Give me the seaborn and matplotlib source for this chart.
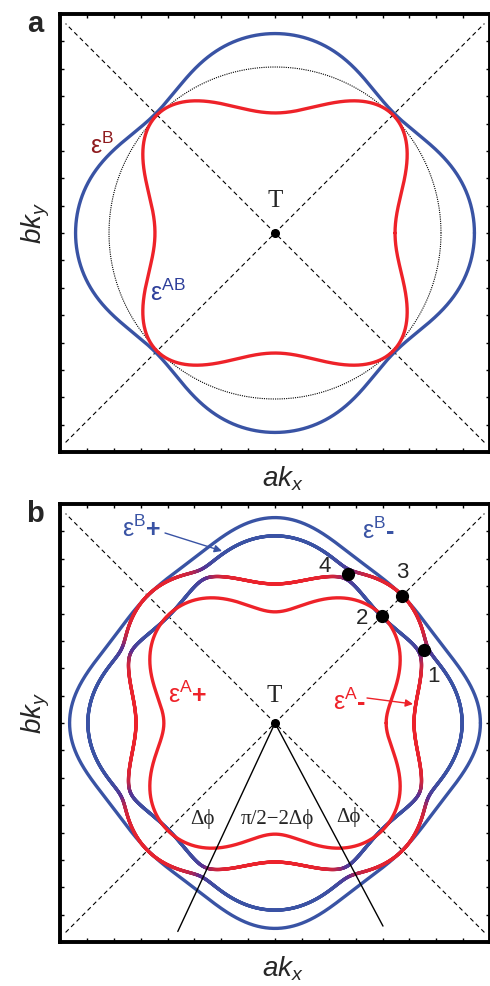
import numpy as np
import matplotlib
matplotlib.use("Agg")
import matplotlib.pyplot as plt
import seaborn as sns
from matplotlib.collections import LineCollection
from matplotlib.colors import LinearSegmentedColormap

# Radii (pixels of the original figure) read along one octant;
# angle in degrees measured from the k_x axis, 8-fold symmetric.
# Panel a
A_ANG_AB = [0, 11, 21, 32, 45]
A_R_AB = [199, 197, 188, 176, 169]
A_ANG_B = [0, 16, 27, 37.6, 45]
A_R_B = [121, 128, 150, 162, 167]
A_R_CIRCLE = 166

# Panel b, bare (unhybridised) bands
B_ANG_AP = [0, 9, 17, 27, 36, 45]
B_R_AP = [111, 116, 127, 140, 149, 152]
B_ANG_BP = [0, 12, 19, 25, 32, 39, 45]
B_R_BP = [187, 180, 175, 166, 159, 153, 152]
B_ANG_AM = [0, 12, 20, 25, 32, 38, 45]
B_R_AM = [140, 147, 155, 165, 175, 176, 179]
B_ANG_BM = [0, 10, 20, 30, 38, 45]
B_R_BM = [206, 199, 189, 182, 180, 180]
HYB_GAP = 5

DIAG_ANG = [45, 135]
WEDGE_ANG = [-115, -62]
WEDGE_LEN = 230

RED = "#ee2229"
BLUE = "#3953a4"
PURPLE = "#5f2d8f"
DARK_RED = "#8e1b1e"
LABEL_BLUE = "#2e3f9a"
XLIM = 215
YLIM = 219

sns.set_theme(style="white")
plt.rcParams["font.family"] = ["Liberation Sans", "DejaVu Sans"]
plt.rcParams["mathtext.fontset"] = "custom"
plt.rcParams["mathtext.rm"] = "Liberation Sans"
plt.rcParams["mathtext.it"] = "Liberation Sans:italic"
plt.rcParams["mathtext.bf"] = "Liberation Sans:bold"

SERIF = ["Liberation Serif", "DejaVu Serif"]
band_cmap = LinearSegmentedColormap.from_list("rb", [RED, PURPLE, BLUE])


def octant_curve(ang, rad, n_harm=3, n=2881):
    # low-order cos(4k t) least-squares fit through the read points
    u = 4 * np.radians(ang)
    k = np.arange(n_harm)
    coef = np.linalg.lstsq(np.cos(np.outer(u, k)), np.asarray(rad, float),
                           rcond=None)[0]
    t = np.linspace(0, 2 * np.pi, n)
    r = np.cos(4 * np.outer(t, k)) @ coef
    return t, r


def draw_curve(ax, t, r, color, lw=2.4, z=3):
    sns.lineplot(x=r * np.cos(t), y=r * np.sin(t), sort=False, ax=ax,
                 color=color, lw=lw, zorder=z, estimator=None)


def draw_gradient(ax, t, r, w_blue, lw=2.4, z=3):
    pts = np.column_stack([r * np.cos(t), r * np.sin(t)]).reshape(-1, 1, 2)
    segs = np.concatenate([pts[:-1], pts[1:]], axis=1)
    w = 0.5 * (w_blue[:-1] + w_blue[1:])
    lc = LineCollection(segs, colors=band_cmap(w), linewidths=lw,
                        capstyle="round", joinstyle="round", zorder=z)
    ax.add_collection(lc)


def setup_axes(ax):
    ax.set_xlim(-XLIM, XLIM)
    ax.set_ylim(-YLIM, YLIM)
    ax.set_xticks(np.linspace(-XLIM, XLIM, 17))
    ax.set_yticks(np.linspace(-YLIM, YLIM, 17))
    ax.tick_params(direction="in", length=3, width=1, color="black",
                   top=True, right=True, bottom=True, left=True,
                   labelleft=False, labelbottom=False)
    for s in ax.spines.values():
        s.set_linewidth(2.8)
        s.set_color("black")
    ax.grid(False)
    ax.set_xlabel(r"$ak_x$", fontsize=20)
    ax.set_ylabel(r"$bk_y$", fontsize=20)
    ax.xaxis.set_label_coords(0.519, -0.028)
    ax.yaxis.set_label_coords(-0.019, 0.522)
    # dashed diagonals through T
    for a in DIAG_ANG:
        d = np.radians(a)
        L = 0.965 * np.hypot(XLIM, YLIM)
        ax.plot([-L * np.cos(d), L * np.cos(d)], [-L * np.sin(d), L * np.sin(d)],
                ls=(0, (4, 3)), color="black", lw=0.8, zorder=2)
    ax.plot([0], [0], "o", color="black", ms=5.5, zorder=6)


def eps_label(ax, x, y, sup, sign, color, fs=18):
    ax.text(x, y, "ε$^{\\mathrm{" + sup + "}}$", color=color, fontsize=fs,
            ha="left", va="center", zorder=7)
    if sign:
        off = 0.5 * fs + 0.47 * fs * len(sup)
        ax.annotate(sign, xy=(x, y), xytext=(off, -1), textcoords="offset points",
                    color=color, fontsize=fs, fontweight="bold",
                    ha="left", va="center", zorder=7)


fig = plt.figure(figsize=(4.9, 9.86), dpi=100)
ax_a = fig.add_axes([60 / 490, 1 - 452 / 986, 430 / 490, 438 / 986])
ax_b = fig.add_axes([60 / 490, 1 - 942 / 986, 430 / 490, 438 / 986])

# ---------------- panel a ----------------
setup_axes(ax_a)
t, r_ab = octant_curve(A_ANG_AB, A_R_AB)
_, r_b = octant_curve(A_ANG_B, A_R_B)
ax_a.plot(A_R_CIRCLE * np.cos(t), A_R_CIRCLE * np.sin(t), ls=(0, (1, 1)),
          color="black", lw=0.8, zorder=2)
draw_curve(ax_a, t, r_ab, BLUE)
draw_curve(ax_a, t, r_b, RED, z=4)
ax_a.text(0, 32, "T", fontsize=18, family=SERIF, ha="center", va="center")
eps_label(ax_a, -185, 87, "B", "", DARK_RED)
eps_label(ax_a, -125, -60, "AB", "", LABEL_BLUE)
fig.text(35 / 490, 1 - 24 / 986, "a", fontsize=21, fontweight="bold",
         ha="center", va="center")

# ---------------- panel b ----------------
setup_axes(ax_b)
t, r_ap = octant_curve(B_ANG_AP, B_R_AP)
_, r_bp = octant_curve(B_ANG_BP, B_R_BP)
_, r_am = octant_curve(B_ANG_AM, B_R_AM)
_, r_bm = octant_curve(B_ANG_BM, B_R_BM)

# hybridised middle pair (B+ with A-)
mean = 0.5 * (r_bp + r_am)
half = 0.5 * (r_bp - r_am)
split = np.sqrt(half ** 2 + HYB_GAP ** 2)
r_out, r_in = mean + split, mean - split
w_out = 0.5 * (1 + half / split)
w_in = 1 - w_out

draw_curve(ax_b, t, r_bm, BLUE)
draw_gradient(ax_b, t, r_out, w_out)
draw_gradient(ax_b, t, r_in, w_in)
draw_curve(ax_b, t, r_ap, RED, z=4)

# Δφ wedge
for a in WEDGE_ANG:
    d = np.radians(a)
    ax_b.plot([0, WEDGE_LEN * np.cos(d)], [0, WEDGE_LEN * np.sin(d)],
              color="black", lw=1.0, zorder=5)

# numbered points: crossings (1, 4) and diagonal touch points (2, 3)
deg = np.degrees(t)
q = (deg > 0) & (deg < 45)
i1 = np.where(q)[0][np.argmin(np.abs(half[q]))]
i4 = np.argmin(np.abs(deg - (90 - deg[i1])))
i45 = np.argmin(np.abs(deg - 45))
pts = [(mean[i1], t[i1]), (r_in[i45], t[i45]), (r_out[i45], t[i45]),
       (mean[i4], t[i4])]
for rr, tt in pts:
    ax_b.plot([rr * np.cos(tt)], [rr * np.sin(tt)], "o", color="black",
              ms=8.5, zorder=8)
for txt, (x, y) in zip(["1", "2", "3", "4"],
                       [(158, 47), (87, 104), (127, 150), (50, 156)]):
    ax_b.text(x, y, txt, fontsize=16, ha="center", va="center", zorder=8)

ax_b.text(-1, 27, "T", fontsize=18, family=SERIF, ha="center", va="center")
ax_b.text(-73, -96, "Δϕ", fontsize=15, family=SERIF, ha="center", va="center")
ax_b.text(2, -96, "π/2−2Δϕ", fontsize=15, family=SERIF, ha="center", va="center")
ax_b.text(73, -94, "Δϕ", fontsize=15, family=SERIF, ha="center", va="center")

eps_label(ax_b, -153, 194, "B", "+", BLUE)
eps_label(ax_b, 87, 192, "B", "-", BLUE)
eps_label(ax_b, -107, 28, "A", "+", RED)
eps_label(ax_b, 58, 21, "A", "-", RED)
ax_b.annotate("", xy=(-53, 172), xytext=(-110, 190),
              arrowprops=dict(arrowstyle="-|>", color=BLUE, lw=1.0,
                              mutation_scale=11, shrinkA=0, shrinkB=0))
ax_b.annotate("", xy=(138, 19), xytext=(92, 25),
              arrowprops=dict(arrowstyle="-|>", color=RED, lw=1.0,
                              mutation_scale=11, shrinkA=0, shrinkB=0))
fig.text(35 / 490, 1 - 514 / 986, "b", fontsize=21, fontweight="bold",
         ha="center", va="center")

fig.savefig("out.png", dpi=100)
